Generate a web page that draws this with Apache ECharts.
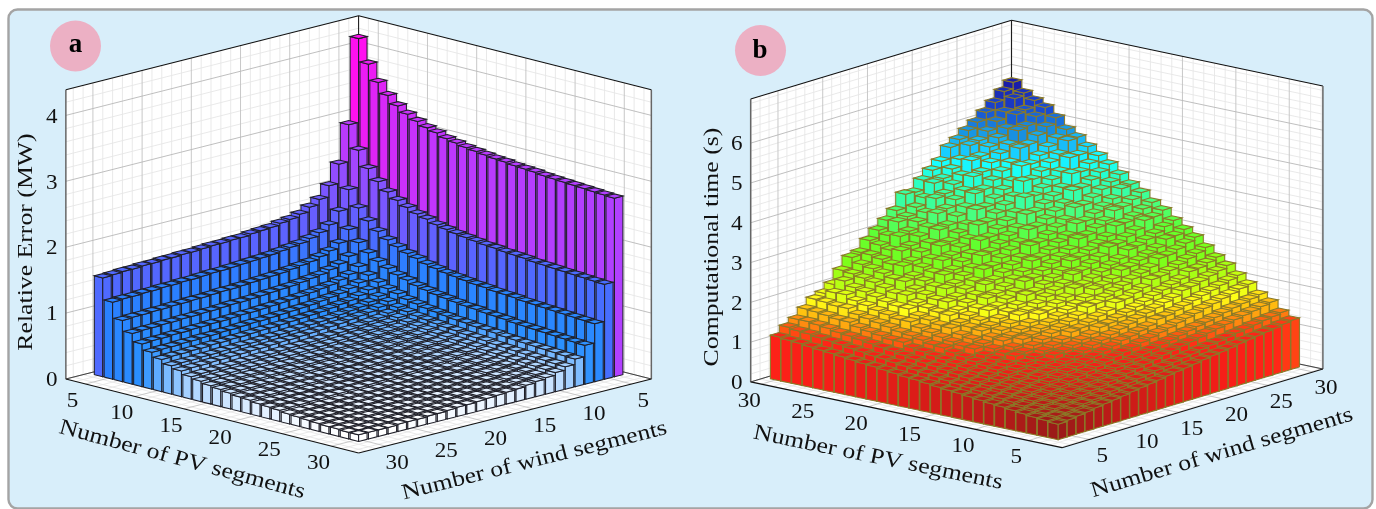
<!DOCTYPE html>
<html><head><meta charset="utf-8">
<style>html,body{margin:0;padding:0;background:#fff}#c{width:1376px;height:509px}</style>
<script src="https://cdn.jsdelivr.net/npm/echarts@6/dist/echarts.min.js"></script>
</head><body><div id="c"></div>
<script>
const segmentsA=[4,5,6,7,8,9,10,11,12,13,14,15,16,17,18,19,20,21,22,23,24,25,26,27,28,29,30];
const pvTicks=[5,10,15,20,25,30];
const windTicks=[5,10,15,20,25,30];
const zTicksA=[0,1,2,3,4];
const zTicksB=[0,1,2,3,4,5,6];
// rows: PV segments 4..30, columns: wind segments 4..30
const errorMW=[
[4.15,2.88,2.32,2.03,1.86,1.78,1.71,1.67,1.65,1.62,1.61,1.60,1.58,1.58,1.57,1.57,1.56,1.55,1.55,1.54,1.54,1.53,1.53,1.52,1.52,1.51,1.50],
[3.80,2.53,1.97,1.68,1.51,1.43,1.38,1.34,1.32,1.30,1.28,1.27,1.26,1.25,1.24,1.23,1.23,1.22,1.21,1.21,1.20,1.20,1.19,1.19,1.18,1.18,1.17],
[3.56,2.29,1.73,1.44,1.27,1.19,1.14,1.10,1.08,1.06,1.04,1.03,1.02,1.01,1.00,.99,.99,.98,.97,.97,.96,.96,.95,.95,.94,.94,.93],
[3.40,2.13,1.57,1.28,1.11,1.03,.98,.94,.92,.90,.88,.87,.86,.85,.84,.83,.83,.82,.81,.81,.80,.80,.79,.79,.78,.78,.77],
[3.28,2.01,1.45,1.16,.99,.91,.86,.82,.80,.78,.76,.75,.74,.73,.72,.71,.71,.70,.69,.69,.68,.68,.67,.67,.66,.66,.65],
[3.19,1.92,1.36,1.07,.90,.82,.77,.73,.71,.69,.67,.66,.65,.64,.63,.62,.62,.61,.60,.60,.59,.59,.58,.58,.57,.57,.56],
[3.12,1.85,1.29,1.00,.83,.75,.70,.66,.64,.62,.60,.59,.58,.57,.56,.55,.55,.54,.53,.53,.52,.52,.51,.51,.50,.50,.49],
[3.06,1.79,1.23,.94,.77,.69,.64,.60,.58,.56,.54,.53,.52,.51,.50,.49,.49,.48,.47,.47,.46,.46,.45,.45,.44,.44,.43],
[3.02,1.75,1.19,.90,.73,.65,.60,.56,.54,.52,.50,.49,.48,.47,.46,.45,.45,.44,.43,.43,.42,.42,.41,.41,.40,.40,.39],
[2.97,1.70,1.14,.85,.68,.60,.55,.51,.49,.47,.45,.44,.43,.42,.41,.40,.40,.39,.38,.38,.37,.37,.36,.36,.35,.35,.34],
[2.94,1.67,1.11,.82,.65,.57,.52,.48,.46,.44,.42,.41,.40,.39,.38,.37,.37,.36,.35,.35,.34,.34,.33,.33,.32,.32,.31],
[2.91,1.64,1.08,.79,.62,.54,.49,.45,.43,.41,.39,.38,.37,.36,.35,.34,.34,.33,.32,.32,.31,.31,.30,.30,.29,.29,.28],
[2.89,1.62,1.06,.77,.60,.52,.47,.43,.41,.39,.37,.36,.35,.34,.33,.32,.32,.31,.30,.30,.29,.29,.28,.28,.27,.27,.26],
[2.87,1.60,1.04,.75,.58,.50,.45,.41,.39,.37,.35,.34,.33,.32,.31,.30,.30,.29,.28,.28,.27,.27,.26,.26,.25,.25,.24],
[2.85,1.58,1.02,.73,.56,.48,.43,.39,.37,.35,.33,.32,.31,.30,.29,.28,.28,.27,.26,.26,.25,.25,.24,.24,.23,.23,.22],
[2.84,1.57,1.01,.72,.55,.47,.42,.38,.36,.34,.32,.31,.30,.29,.28,.27,.27,.26,.25,.25,.24,.24,.23,.23,.22,.22,.21],
[2.82,1.55,.99,.70,.53,.45,.40,.36,.34,.32,.30,.29,.28,.27,.26,.25,.25,.24,.23,.23,.22,.22,.21,.21,.20,.20,.19],
[2.81,1.54,.98,.69,.52,.44,.39,.35,.33,.31,.29,.28,.27,.26,.25,.24,.24,.23,.22,.22,.21,.21,.20,.20,.19,.19,.18],
[2.80,1.53,.97,.68,.51,.43,.38,.34,.32,.30,.28,.27,.26,.25,.24,.23,.23,.22,.21,.21,.20,.20,.19,.19,.18,.18,.17],
[2.78,1.51,.95,.66,.49,.41,.36,.32,.30,.28,.26,.25,.24,.23,.22,.21,.21,.20,.19,.19,.18,.18,.17,.17,.16,.16,.15],
[2.77,1.50,.94,.65,.48,.40,.35,.31,.29,.27,.25,.24,.23,.22,.21,.20,.20,.19,.18,.18,.17,.17,.16,.16,.15,.15,.14],
[2.76,1.49,.93,.64,.47,.39,.34,.30,.28,.26,.24,.23,.22,.21,.20,.19,.19,.18,.17,.17,.16,.16,.15,.15,.14,.14,.13],
[2.75,1.48,.92,.63,.46,.38,.33,.29,.27,.25,.23,.22,.21,.20,.19,.18,.18,.17,.16,.16,.15,.15,.14,.14,.13,.13,.12],
[2.74,1.47,.91,.62,.45,.37,.32,.28,.26,.24,.22,.21,.20,.19,.18,.17,.17,.16,.15,.15,.14,.14,.13,.13,.12,.12,.11],
[2.73,1.46,.90,.61,.44,.36,.31,.27,.25,.23,.21,.20,.19,.18,.17,.16,.16,.15,.14,.14,.13,.13,.12,.12,.11,.11,.11],
[2.72,1.45,.89,.60,.43,.35,.30,.26,.24,.22,.20,.19,.18,.17,.16,.15,.15,.14,.13,.13,.12,.12,.11,.11,.11,.10,.10],
[2.71,1.44,.88,.59,.42,.34,.29,.25,.23,.21,.19,.18,.17,.16,.15,.14,.14,.13,.12,.12,.11,.11,.11,.10,.10,.10,.10]];
const timeSeconds=[
[.39,.42,.45,.48,.52,.55,.58,.61,.65,.68,.71,.74,.78,.81,.84,.87,.91,.94,.97,1.00,1.04,1.07,1.10,1.13,1.16,1.20,1.23],
[.42,.46,.49,.53,.57,.60,.64,.68,.71,.75,.79,.82,.86,.89,.93,.97,1.00,1.04,1.08,1.11,1.15,1.19,1.22,1.26,1.30,1.33,1.37],
[.44,.48,.53,.57,.61,.66,.70,.74,.79,.83,.87,.92,.96,1.00,1.05,1.09,1.14,1.18,1.22,1.27,1.31,1.35,1.40,1.44,1.48,1.53,1.57],
[.47,.52,.57,.61,.66,.71,.76,.80,.85,.90,.95,.99,1.04,1.09,1.14,1.19,1.23,1.28,1.33,1.38,1.42,1.47,1.52,1.57,1.61,1.66,1.71],
[.50,.55,.61,.66,.72,.77,.83,.88,.93,.99,1.04,1.10,1.15,1.20,1.26,1.31,1.37,1.42,1.48,1.53,1.58,1.64,1.69,1.75,1.80,1.86,1.91],
[.53,.59,.65,.71,.77,.83,.89,.95,1.01,1.07,1.13,1.19,1.25,1.32,1.36,1.42,1.48,1.58,1.60,1.66,1.72,1.78,1.84,1.90,1.96,2.02,2.08],
[.55,.62,.68,.75,.81,.90,.95,1.01,1.08,1.15,1.21,1.28,1.34,1.41,1.48,1.54,1.61,1.68,1.74,1.81,1.87,1.98,2.01,2.07,2.14,2.20,2.27],
[.58,.65,.72,.79,.86,.93,1.00,1.08,1.18,1.22,1.29,1.36,1.43,1.54,1.57,1.64,1.71,1.78,1.85,1.93,2.00,2.07,2.14,2.26,2.28,2.35,2.42],
[.61,.69,.76,.84,.92,.99,1.07,1.15,1.23,1.30,1.38,1.50,1.53,1.61,1.69,1.76,1.90,1.92,2.00,2.07,2.21,2.23,2.30,2.38,2.46,2.53,2.61],
[.64,.72,.81,.89,.97,1.06,1.18,1.22,1.31,1.39,1.48,1.56,1.64,1.73,1.87,1.89,1.98,2.06,2.14,2.23,2.31,2.39,2.55,2.56,2.64,2.73,2.81],
[.66,.75,.84,.92,1.01,1.10,1.19,1.28,1.41,1.45,1.54,1.63,1.72,1.81,1.89,1.98,2.12,2.16,2.25,2.40,2.42,2.51,2.60,2.69,2.84,2.86,2.95],
[.69,.78,.88,.97,1.06,1.16,1.25,1.38,1.44,1.53,1.63,1.78,1.81,1.91,2.00,2.16,2.19,2.28,2.37,2.47,2.56,2.72,2.75,2.84,2.93,3.03,3.12],
[.72,.82,.92,1.02,1.12,1.26,1.32,1.42,1.52,1.62,1.77,1.82,1.92,2.02,2.12,2.22,2.38,2.42,2.52,2.62,2.80,2.82,2.92,3.02,3.20,3.22,3.32],
[.75,.85,.96,1.06,1.17,1.27,1.38,1.52,1.58,1.69,1.79,1.90,2.08,2.10,2.21,2.31,2.42,2.60,2.63,2.73,2.83,2.94,3.14,3.15,3.25,3.36,3.46],
[.77,.88,.99,1.10,1.24,1.32,1.43,1.55,1.66,1.84,1.88,1.99,2.10,2.30,2.32,2.43,2.54,2.65,2.76,2.96,2.99,3.10,3.21,3.40,3.43,3.54,3.65],
[.80,.92,1.03,1.15,1.26,1.38,1.54,1.61,1.72,1.84,2.02,2.07,2.18,2.30,2.42,2.62,2.65,2.76,2.88,2.99,3.22,3.22,3.34,3.45,3.57,3.76,3.80],
[.83,.95,1.07,1.19,1.32,1.44,1.56,1.74,1.80,1.92,2.05,2.24,2.29,2.41,2.53,2.65,2.88,2.90,3.02,3.14,3.26,3.50,3.50,3.62,3.75,3.87,3.99],
[.86,.99,1.12,1.28,1.37,1.50,1.63,1.76,1.95,2.01,2.14,2.27,2.50,2.52,2.65,2.78,2.91,3.16,3.17,3.29,3.42,3.55,3.80,3.81,3.93,4.06,4.19],
[.88,1.01,1.15,1.28,1.41,1.60,1.68,1.81,1.95,2.16,2.22,2.35,2.48,2.72,2.75,2.88,3.02,3.15,3.42,3.42,3.55,3.68,3.82,4.10,4.08,4.22,4.35],
[.91,1.05,1.19,1.33,1.47,1.60,1.80,1.88,2.02,2.16,2.38,2.44,2.58,2.71,2.98,2.99,3.13,3.27,3.41,3.72,3.69,3.82,3.96,4.10,4.38,4.38,4.52],
[.94,1.08,1.23,1.37,1.52,1.66,1.81,2.02,2.10,2.24,2.39,2.62,2.68,2.82,2.96,3.24,3.25,3.40,3.54,3.69,4.00,3.98,4.12,4.27,4.41,4.68,4.70],
[.97,1.12,1.27,1.42,1.57,1.71,1.86,2.01,2.24,2.31,2.46,2.61,2.86,2.90,3.05,3.20,3.50,3.50,3.65,3.80,3.95,4.26,4.24,4.39,4.54,4.69,4.84],
[.99,1.15,1.30,1.50,1.62,1.78,1.93,2.09,2.25,2.50,2.56,2.72,2.88,3.14,3.19,3.35,3.51,3.78,3.82,3.98,4.14,4.29,4.58,4.61,4.77,4.92,5.08],
[1.02,1.18,1.35,1.51,1.72,1.84,2.00,2.17,2.33,2.49,2.76,2.82,2.99,3.15,3.43,3.48,3.64,3.80,4.08,4.13,4.30,4.46,4.62,4.90,4.95,5.12,5.28],
[1.05,1.22,1.38,1.55,1.72,1.94,2.05,2.22,2.39,2.56,2.72,3.00,3.06,3.23,3.39,3.68,3.73,3.90,4.06,4.36,4.40,4.57,4.73,4.90,5.18,5.23,5.40],
[1.07,1.24,1.41,1.58,1.76,1.93,2.16,2.27,2.44,2.61,2.79,2.96,3.24,3.30,3.47,3.64,3.94,3.99,4.16,4.33,4.62,4.67,4.84,5.02,5.19,5.46,5.53],
[1.10,1.28,1.41,1.60,1.78,1.86,2.02,2.30,2.56,2.62,2.85,3.04,3.22,3.40,3.74,3.72,3.96,4.14,4.30,4.58,4.71,4.87,5.01,5.19,5.37,5.58,5.74]];

const colorRampA=[[.10,'#ffffff'],[.3,'#b8daff'],[.6,'#2a90ff'],[1.2,'#2a80ff'],[1.55,'#5566ff'],[2.7,'#b040ff'],[4.15,'#ff10f0']];
const colorRampB=[[.35,'#941a18'],[.7,'#d61c18'],[1.0,'#f81e18'],[1.15,'#ff2418'],[1.3,'#ff6010'],[1.45,'#ff9a10'],[1.65,'#ffd010'],[1.8,'#ffff18'],[2.0,'#d0ff10'],[2.5,'#80ff18'],[3.0,'#60ff30'],[3.5,'#48ff80'],[4.0,'#28ffc8'],[4.3,'#18ffff'],[4.6,'#18ccff'],[4.9,'#1890e0'],[5.3,'#1a48d0'],[5.75,'#1a1ca8']];
function hex(c){return [1,3,5].map(i=>parseInt(c.substr(i,2),16));}
function ramp(stops,v){
  if(v<=stops[0][0])return stops[0][1];
  for(let i=1;i<stops.length;i++){
    if(v<=stops[i][0]){
      const t=(v-stops[i-1][0])/(stops[i][0]-stops[i-1][0]),a=hex(stops[i-1][1]),b=hex(stops[i][1]);
      return 'rgb('+a.map((x,k)=>Math.round(x+(b[k]-x)*t)).join(',')+')';
    }
  }
  return stops[stops.length-1][1];
}
const SERIF='"Liberation Serif",serif';
const panelA={x0:358.6,y0:305,p0:3,w0:3,pdx:9.84,pdy:2.487,wdx:-9.84,wdy:2.487,zdy:-65.9,wallP:3,wallW:3,frontP:32.75,frontW:32.75,zMax:4.39,zMinorStep:.2,hw:.43,
  edge:'#1f1f28',edgeW:1.05,ramp:colorRampA,zTicks:zTicksA,zTitle:'Relative Error (MW)',zTitleAt:[26,242],zLabelDx:-14,
  pLabel:[-13,17],wLabel:[11.5,17.5],pTitleAt:[182,460],pTitleRot:-15,wTitleAt:[534.5,461],wTitleRot:14,scaleT:1.17};
const panelB={x0:1062,y0:447.7,p0:1.85,w0:1.95,pdx:-10.68,pdy:-2.256,wdx:8.95,wdy:-2.7,zdy:-39.8,wallP:31,wallW:31.1,frontP:1.85,frontW:1.95,zMax:7.11,zMinorStep:.2,hw:.475,
  edge:'#8a7a28',edgeW:1.05,ramp:colorRampB,zTicks:zTicksB,zTitle:'Computational time (s)',zTitleAt:[712,247],zLabelDx:-14,
  pLabel:[-12,17],wLabel:[13,16.5],pTitleAt:[878,458],pTitleRot:-11.5,wTitleAt:[1222,453],wTitleRot:16.5,scaleT:1.17};
function proj(c,p,w,z){return [c.x0+c.pdx*(p-c.p0)+c.wdx*(w-c.w0), c.y0+c.pdy*(p-c.p0)+c.wdy*(w-c.w0)+c.zdy*z];}
function line(api,c,a,b,stroke,lw){
  const s=api.coord(proj(c,a[0],a[1],a[2])),e=api.coord(proj(c,b[0],b[1],b[2]));
  return {type:'line',silent:true,shape:{x1:s[0],y1:s[1],x2:e[0],y2:e[1]},style:{stroke,lineWidth:lw,fill:null}};
}
function poly(api,c,pts,fill,stroke,lw){
  return {type:'polygon',silent:true,shape:{points:pts.map(q=>api.coord(proj(c,q[0],q[1],q[2])))},style:{fill,stroke,lineWidth:lw}};
}
function wallsItem(c){return function(params,api){
  const kids=[],P=c.wallP,W=c.wallW,FP=c.frontP,FW=c.frontW,Z=c.zMax;
  kids.push(poly(api,c,[[P,W,0],[P,FW,0],[P,FW,Z],[P,W,Z]],'#fff',null,0));
  kids.push(poly(api,c,[[P,W,0],[FP,W,0],[FP,W,Z],[P,W,Z]],'#fff',null,0));
  kids.push(poly(api,c,[[P,W,0],[FP,W,0],[FP,FW,0],[P,FW,0]],'#fff',null,0));
  const MIN='#e6e6e6',MAJ='#c2c2c2';
  const loP=Math.ceil(Math.min(P,FP)),hiP=Math.floor(Math.max(P,FP)),loW=Math.ceil(Math.min(W,FW)),hiW=Math.floor(Math.max(W,FW));
  for(let pass=0;pass<2;pass++){
    for(let v=loP;v<=hiP;v++){ const maj=pvTicks.includes(v); if(maj!==(pass===1))continue;
      const col=maj?MAJ:MIN,lw=.9;
      kids.push(line(api,c,[v,W,0],[v,W,Z],col,lw)); kids.push(line(api,c,[v,W,0],[v,FW,0],col,lw)); }
    for(let v=loW;v<=hiW;v++){ const maj=windTicks.includes(v); if(maj!==(pass===1))continue;
      const col=maj?MAJ:MIN,lw=.9;
      kids.push(line(api,c,[P,v,0],[P,v,Z],col,lw)); kids.push(line(api,c,[P,v,0],[FP,v,0],col,lw)); }
    for(let k=0;k*c.zMinorStep<=Z;k++){ const v=+(k*c.zMinorStep).toFixed(2); const maj=c.zTicks.includes(v); if(maj!==(pass===1))continue;
      const col=maj?'#b8b8b8':MIN;
      kids.push(line(api,c,[P,W,v],[P,FW,v],col,.9)); kids.push(line(api,c,[P,W,v],[FP,W,v],col,.9)); }
  }
  kids.push(line(api,c,[P,FW,Z],[P,W,Z],'#111',1.1));
  kids.push(line(api,c,[P,W,Z],[FP,W,Z],'#111',1.1));
  kids.push(line(api,c,[P,W,0],[P,W,Z],'#111',1));
  kids.push(line(api,c,[P,FW,0],[P,FW,Z],'#666',1.5));
  kids.push(line(api,c,[FP,W,0],[FP,W,Z],'#666',1.5));
  kids.push(line(api,c,[P,FW,0],[FP,FW,0],'#111',1.2));
  kids.push(line(api,c,[FP,W,0],[FP,FW,0],'#111',1.2));
  kids.push(line(api,c,[P,FW,0],[P,W,0],'#333',.9));
  kids.push(line(api,c,[FP,W,0],[P,W,0],'#333',.9));
  return {type:'group',children:kids};
};}
function barItem(c){return function(params,api){
  const p=api.value(0),w=api.value(1),z=api.value(2),fill=ramp(c.ramp,z);
  const s=Math.sign(c.frontP-c.wallP),h=c.hw,P1=p+s*h,P2=p-s*h,W1=w+s*h,W2=w-s*h,E=c.edge,L=c.edgeW;
  return {type:'group',children:[
    poly(api,c,[[P1,W1,0],[P2,W1,0],[P2,W1,z],[P1,W1,z]],fill,E,L),
    poly(api,c,[[P1,W1,0],[P1,W2,0],[P1,W2,z],[P1,W1,z]],fill,E,L),
    poly(api,c,[[P1,W1,z],[P1,W2,z],[P2,W2,z],[P2,W1,z]],fill,E,L)
  ]};
};}
function txt(api,xy,text,opt){
  const o=opt||{},q=api.coord(xy);
  return {type:'text',silent:true,x:q[0],y:q[1],rotation:(o.rot||0)*Math.PI/180,scaleX:o.sx||1,
    style:{text,x:0,y:0,align:'center',verticalAlign:'middle',font:(o.size||22)+'px '+SERIF,fill:'#111'}};
}
function labelsItem(c){return function(params,api){
  const kids=[];
  c.zTicks.forEach(v=>{const q=proj(c,c.wallP,c.frontW,v);kids.push(txt(api,[q[0]+c.zLabelDx,q[1]+1.5],String(v),{sx:1.05}));});
  pvTicks.forEach(v=>{const q=proj(c,v,c.frontW,0);kids.push(txt(api,[q[0]+c.pLabel[0],q[1]+c.pLabel[1]],String(v),{sx:1.05}));});
  windTicks.forEach(v=>{const q=proj(c,c.frontP,v,0);kids.push(txt(api,[q[0]+c.wLabel[0],q[1]+c.wLabel[1]],String(v),{sx:1.05}));});
  kids.push(txt(api,c.pTitleAt,'Number of PV segments',{rot:c.pTitleRot,sx:c.scaleT,size:22}));
  kids.push(txt(api,c.wTitleAt,'Number of wind segments',{rot:c.wTitleRot,sx:c.scaleT,size:22}));
  kids.push(txt(api,c.zTitleAt,c.zTitle,{rot:90,sx:c.scaleT,size:22}));
  return {type:'group',children:kids};
};}
function barData(table,backFirst){
  const out=[];
  segmentsA.forEach((p,i)=>segmentsA.forEach((w,j)=>out.push([p,w,table[i][j]])));
  out.sort((a,b)=>backFirst*((a[0]+a[1])-(b[0]+b[1])));
  return out;
}
function customSeries(name,item,data,z){
  return {type:'custom',name,coordinateSystem:'cartesian2d',renderItem:item,data,z,clip:false,silent:true,animation:false,progressive:0,
    dimensions:['pv','wind','value'],encode:{x:0,y:1}};
}
const chart=echarts.init(document.getElementById('c'),null,{renderer:'canvas'});
chart.setOption({
  animation:false,
  backgroundColor:'#ffffff',
  grid:{left:0,top:0,width:1376,height:509,containLabel:false},
  xAxis:{type:'value',min:0,max:1376,show:false},
  yAxis:{type:'value',min:0,max:509,inverse:true,show:false},
  tooltip:{show:false},
  graphic:[
    {type:'rect',z:-5,silent:true,shape:{x:8.5,y:9.5,width:1364,height:499,r:9},style:{fill:'#d8eefa',stroke:'#a4a4a4',lineWidth:2.4}},
    {type:'circle',z:-4,silent:true,shape:{cx:75.5,cy:46,r:25.5},style:{fill:'#ecb0c4'}},
    {type:'circle',z:-4,silent:true,shape:{cx:760.5,cy:50.5,r:25.5},style:{fill:'#ecb0c4'}},
    {type:'text',z:-3,silent:true,x:75.5,y:45,style:{text:'a',align:'center',verticalAlign:'middle',font:'bold 27px '+SERIF,fill:'#000'}},
    {type:'text',z:-3,silent:true,x:760,y:51,style:{text:'b',align:'center',verticalAlign:'middle',font:'bold 27px '+SERIF,fill:'#000'}}
  ],
  series:[
    customSeries('walls a',wallsItem(panelA),[[0,0,0]],1),
    customSeries('walls b',wallsItem(panelB),[[0,0,0]],1),
    customSeries('Relative Error (MW)',barItem(panelA),barData(errorMW,1),2),
    customSeries('Computational time (s)',barItem(panelB),barData(timeSeconds,-1),2),
    customSeries('labels a',labelsItem(panelA),[[0,0,0]],3),
    customSeries('labels b',labelsItem(panelB),[[0,0,0]],3)
  ]
});
</script></body></html>
